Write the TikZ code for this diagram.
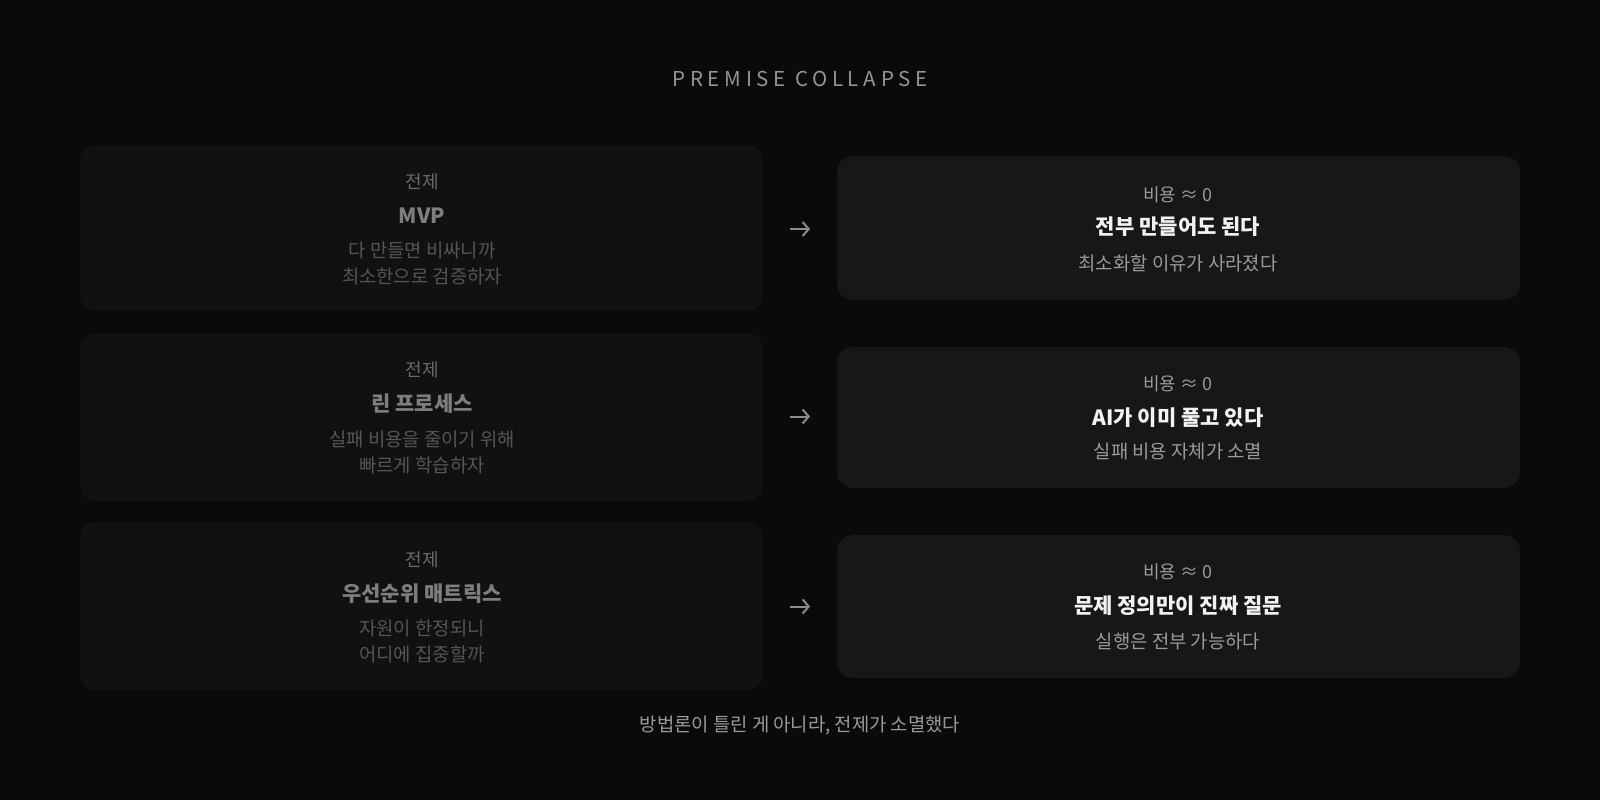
\documentclass[tikz,border=0pt]{standalone}
\usepackage{fontspec}
\setmainfont{Noto Sans CJK KR}
\newfontfamily\titlefont[LetterSpace=23]{Noto Sans CJK KR}
\usetikzlibrary{arrows.meta}
\definecolor{bg}{HTML}{0A0A0A}
\definecolor{leftbox}{HTML}{111111}
\definecolor{rightbox}{HTML}{171717}
\definecolor{ltag}{HTML}{6A6A6A}
\definecolor{ltitle}{HTML}{7E7E7E}
\definecolor{lsub}{HTML}{555555}
\definecolor{rtag}{HTML}{9A9A9A}
\definecolor{rtitle}{HTML}{F2F2F2}
\definecolor{rsub}{HTML}{9A9A9A}
\definecolor{arrowc}{HTML}{8A8A8A}
\definecolor{titlec}{HTML}{959595}
\definecolor{footc}{HTML}{9A9A9A}
\tikzset{
  lbox/.style={fill=leftbox, rounded corners=16pt},
  rbox/.style={fill=rightbox, rounded corners=16pt},
  txt/.style={inner sep=0pt, anchor=center},
  ltagt/.style={txt, text=ltag, font=\fontsize{18}{22}\selectfont},
  ltitlet/.style={txt, text=ltitle, font=\fontsize{21}{25}\selectfont\bfseries},
  lsubt/.style={txt, text=lsub, font=\fontsize{18.8}{22}\selectfont},
  rtagt/.style={txt, text=rtag, font=\fontsize{18}{22}\selectfont},
  rtitlet/.style={txt, text=rtitle, font=\fontsize{21}{25}\selectfont\bfseries},
  rsubt/.style={txt, text=rsub, font=\fontsize{18.8}{22}\selectfont},
  arr/.style={draw=arrowc, line width=2pt, -{Straight Barb[length=6pt,width=14pt,line width=2pt]}},
}
\begin{document}
\begin{tikzpicture}[x=1pt,y=-1pt]
\fill[bg] (0,0) rectangle (1600,800);
\useasboundingbox (0,0) rectangle (1600,800);

\node[txt, text=titlec, font=\fontsize{20.5}{24}\selectfont\titlefont] (title) at (800,79) {PREMISE COLLAPSE};

% left boxes
\fill[lbox] (80,145) rectangle (763,311);
\fill[lbox] (80,333) rectangle (763,501);
\fill[lbox] (80,522) rectangle (763,690);
% right boxes
\fill[rbox] (837,156) rectangle (1520,300);
\fill[rbox] (837,347) rectangle (1520,488);
\fill[rbox] (837,535) rectangle (1520,678);

% row 1 left
\node[ltagt] (l1a) at (422,182) {전제};
\node[ltitlet] (l1b) at (422,215.5) {MVP};
\node[lsubt] (l1c) at (422,250) {다 만들면 비싸니까};
\node[lsubt] (l1d) at (422,276) {최소한으로 검증하자};
% row 2 left
\node[ltagt] (l2a) at (422,370) {전제};
\node[ltitlet] (l2b) at (422,403.5) {린 프로세스};
\node[lsubt] (l2c) at (422,439) {실패 비용을 줄이기 위해};
\node[lsubt] (l2d) at (422,465.5) {빠르게 학습하자};
% row 3 left
\node[ltagt] (l3a) at (422,560) {전제};
\node[ltitlet] (l3b) at (422,593.5) {우선순위 매트릭스};
\node[lsubt] (l3c) at (422,628) {자원이 한정되니};
\node[lsubt] (l3d) at (422,654.5) {어디에 집중할까};

% row 1 right
\node[rtagt] (r1a) at (1178,194.5) {비용 ≈ 0};
\node[rtitlet] (r1b) at (1178,227) {전부 만들어도 된다};
\node[rsubt] (r1c) at (1178,263.5) {최소화할 이유가 사라졌다};
% row 2 right
\node[rtagt] (r2a) at (1178,384) {비용 ≈ 0};
\node[rtitlet] (r2b) at (1178,418) {AI가 이미 풀고 있다};
\node[rsubt] (r2c) at (1178,451.5) {실패 비용 자체가 소멸};
% row 3 right
\node[rtagt] (r3a) at (1178,572) {비용 ≈ 0};
\node[rtitlet] (r3b) at (1178,605.5) {문제 정의만이 진짜 질문};
\node[rsubt] (r3c) at (1178,641) {실행은 전부 가능하다};

% arrows
\coordinate (a1s) at (790,229); \coordinate (a1e) at (810,229);
\coordinate (a2s) at (790,416.5); \coordinate (a2e) at (810,416.5);
\coordinate (a3s) at (790,606.5); \coordinate (a3e) at (810,606.5);
\draw[arr] (a1s) -- (a1e);
\draw[arr] (a2s) -- (a2e);
\draw[arr] (a3s) -- (a3e);

\node[txt, text=footc, font=\fontsize{18.8}{22}\selectfont] (foot) at (800,726) {방법론이 틀린 게 아니라, 전제가 소멸했다};
\end{tikzpicture}
\end{document}
